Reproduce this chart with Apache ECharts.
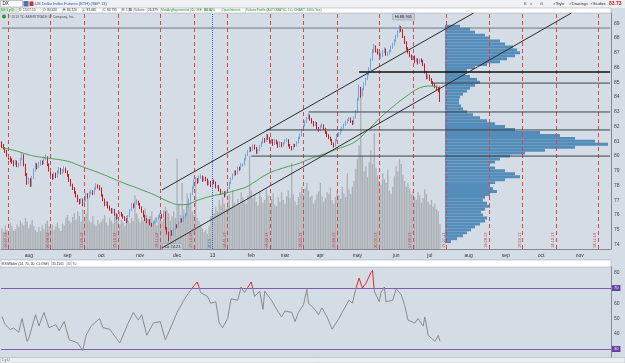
<!DOCTYPE html>
<html><head><meta charset="utf-8">
<script src="https://cdn.jsdelivr.net/npm/echarts@6/dist/echarts.min.js"></script>
<style>html,body{margin:0;padding:0;background:#d4dde6}#c{width:625px;height:363px}</style>
</head><body><div id="c"></div>
<script>
// ---------- DATA ----------
const startDate = '2012-07-10';
const dayCount = 362;
// daily candles [open, close, low, high]
const candles = [
[80.85,80.70,80.55,81.00],[80.70,80.52,80.45,80.82],[80.52,80.35,80.22,80.60],[80.35,80.05,79.95,80.42],[80.05,79.88,79.75,80.15],
[79.88,79.70,79.58,79.98],[79.70,79.60,79.48,79.85],[79.60,79.45,79.30,79.72],[79.45,79.62,79.38,79.75],[79.62,79.35,79.25,79.70],
[79.35,79.40,79.22,79.55],[79.40,79.78,79.35,79.90],[79.78,80.05,79.70,80.20],[80.05,79.40,79.30,80.12],[79.40,78.75,78.65,79.48],
[78.75,78.20,78.05,78.85],[78.20,78.42,78.10,78.55],[78.42,78.00,77.90,78.50],[78.00,78.55,77.95,78.65],[78.55,79.05,78.45,79.15],
[79.05,79.40,78.95,79.55],[79.40,79.25,79.10,79.52],[79.25,79.48,79.18,79.60],[79.48,79.60,79.35,79.75],[79.60,79.52,79.40,79.70],
[79.52,79.85,79.45,79.98],[79.85,79.90,79.70,80.10],[79.90,79.40,79.32,79.98],[79.40,79.05,78.95,79.50],[79.05,78.70,78.60,79.12],
[78.70,78.50,78.40,78.80],[78.50,78.78,78.42,78.90],[78.78,78.62,78.50,78.88],[78.62,78.90,78.55,79.02],[78.90,79.10,78.82,79.25],
[79.10,78.85,78.75,79.20],[78.85,79.00,78.78,79.12],[79.00,79.15,78.90,79.30],[79.15,78.95,78.85,79.22],[78.95,78.70,78.60,79.02],
[78.70,78.35,78.25,78.78],[78.35,78.05,77.95,78.45],[78.05,77.80,77.70,78.12],[77.80,77.55,77.45,77.90],[77.55,77.30,77.20,77.62],
[77.30,77.00,76.88,77.38],[77.00,76.85,76.72,77.10],[76.85,77.05,76.78,77.15],[77.05,76.70,76.60,77.12],[76.70,77.00,76.65,77.10],
[77.00,77.40,76.92,77.50],[77.40,77.25,77.12,77.48],[77.25,77.50,77.18,77.60],[77.50,77.60,77.40,77.72],[77.60,77.45,77.35,77.68],
[77.45,77.78,77.40,77.88],[77.78,78.00,77.70,78.15],[78.00,77.92,77.80,78.08],[77.92,77.80,77.68,78.02],[77.80,77.35,77.25,77.88],
[77.35,77.05,76.95,77.42],[77.05,76.70,76.60,77.12],[76.70,76.85,76.62,76.95],[76.85,76.55,76.45,76.92],[76.55,76.40,76.30,76.65],
[76.40,76.20,76.10,76.48],[76.20,76.35,76.12,76.45],[76.35,76.05,75.95,76.42],[76.05,75.80,75.70,76.12],[75.80,75.95,75.72,76.05],
[75.95,76.15,75.88,76.25],[76.15,76.00,75.90,76.22],[76.00,75.85,75.75,76.08],[75.85,75.70,75.60,75.92],[75.70,75.55,75.45,75.78],
[75.55,75.90,75.50,76.00],[75.90,76.30,75.85,76.40],[76.30,76.70,76.25,76.82],[76.70,76.55,76.45,76.78],[76.55,76.80,76.50,76.92],
[76.80,76.90,76.70,77.05],[76.90,76.75,76.65,76.98],[76.75,76.50,76.40,76.82],[76.50,76.25,76.15,76.58],[76.25,75.95,75.85,76.32],
[75.95,75.70,75.60,76.02],[75.70,75.55,75.45,75.78],[75.55,75.65,75.48,75.75],[75.65,75.40,75.30,75.72],[75.40,75.30,75.20,75.48],
[75.30,75.48,75.25,75.58],[75.48,75.55,75.40,75.65],[75.55,75.75,75.50,75.85],[75.75,75.90,75.68,76.00],[75.90,76.00,75.82,76.12],
[76.00,75.85,75.75,76.08],[75.85,76.20,75.80,76.30],[76.20,75.10,75.00,76.25],[75.10,74.80,74.68,75.18],[74.80,74.50,74.21,74.88],
[74.50,74.90,74.42,75.00],[74.90,74.70,74.58,74.98],[74.70,75.05,74.65,75.15],[75.05,75.30,74.98,75.42],[75.30,75.20,75.10,75.38],
[75.20,75.50,75.15,75.60],[75.50,75.70,75.45,75.80],[75.70,75.60,75.50,75.78],[75.60,75.85,75.55,75.95],[75.85,76.00,75.78,76.12],
[76.00,76.55,75.95,76.65],[76.55,77.00,76.50,77.12],[77.00,77.40,76.92,77.52],[77.40,77.85,77.35,77.95],[77.85,78.30,77.80,78.42],
[78.30,78.40,78.18,78.55],[78.40,78.25,78.12,78.50],[78.25,78.55,78.20,78.68],[78.55,78.60,78.45,78.75],[78.60,78.35,78.25,78.68],
[78.35,78.50,78.28,78.62],[78.50,78.40,78.30,78.60],[78.40,78.10,78.00,78.48],[78.10,78.25,78.02,78.35],[78.25,78.00,77.90,78.32],
[78.00,78.30,77.95,78.40],[78.30,78.20,78.10,78.40],[78.20,77.90,77.80,78.28],[77.90,77.95,77.82,78.05],[77.95,77.70,77.60,78.02],
[77.70,77.45,77.35,77.78],[77.45,77.55,77.38,77.65],[77.55,77.30,77.20,77.62],[77.30,77.55,77.25,77.65],[77.55,77.80,77.50,77.90],
[77.80,78.15,77.75,78.25],[78.15,78.45,78.10,78.55],[78.45,78.70,78.40,78.82],[78.70,78.95,78.65,79.05],[78.95,78.80,78.70,79.02],
[78.80,79.20,78.75,79.30],[79.20,79.10,79.00,79.28],[79.10,79.40,79.05,79.50],[79.40,79.42,79.28,79.52],[79.42,79.75,79.38,79.85],
[79.75,80.05,79.70,80.15],[80.05,80.30,80.00,80.42],[80.30,80.55,80.25,80.65],[80.55,80.40,80.30,80.62],[80.40,80.70,80.35,80.80],
[80.70,80.55,80.45,80.78],[80.55,80.25,80.15,80.62],[80.25,80.40,80.18,80.50],[80.40,80.65,80.35,80.75],[80.65,80.90,80.60,81.00],
[80.90,81.15,80.85,81.25],[81.15,81.00,80.90,81.22],[81.00,81.40,80.95,81.52],[81.40,81.20,81.10,81.48],[81.20,80.95,80.85,81.28],
[80.95,81.10,80.88,81.20],[81.10,80.80,80.70,81.15],[80.80,81.05,80.75,81.15],[81.05,80.90,80.80,81.12],[80.90,80.65,80.55,80.98],
[80.65,80.90,80.60,81.00],[80.90,80.70,80.60,80.95],[80.70,80.85,80.65,80.95],[80.85,81.05,80.80,81.15],[81.05,81.10,80.95,81.22],
[81.10,80.75,80.65,81.15],[80.75,80.60,80.50,80.82],[80.60,80.50,80.38,80.68],[80.50,80.75,80.45,80.85],[80.75,80.70,80.60,80.82],
[80.70,80.90,80.65,81.00],[80.90,81.20,80.85,81.30],[81.20,81.40,81.15,81.52],[81.40,81.75,81.35,81.85],[81.75,82.05,81.70,82.15],
[82.05,82.30,82.00,82.42],[82.30,82.55,82.25,82.65],[82.55,82.75,82.50,82.90],[82.75,82.50,82.40,82.82],[82.50,82.30,82.20,82.58],
[82.30,82.10,82.00,82.38],[82.10,82.25,82.05,82.35],[82.25,81.90,81.80,82.30],[81.90,81.75,81.65,81.98],[81.75,82.00,81.70,82.10],
[82.00,82.10,81.92,82.22],[82.10,81.85,81.75,82.15],[81.85,81.60,81.50,81.92],[81.60,81.40,81.30,81.68],[81.40,81.25,81.15,81.48],
[81.25,81.10,81.00,81.32],[81.10,80.85,80.75,81.15],[80.85,80.70,80.58,80.92],[80.70,81.05,80.65,81.15],[81.05,81.40,81.00,81.50],
[81.40,81.50,81.32,81.62],[81.50,81.75,81.45,81.85],[81.75,81.90,81.68,82.00],[81.90,82.10,81.85,82.20],[82.10,82.30,82.05,82.40],
[82.30,82.40,82.22,82.52],[82.40,82.55,82.35,82.65],[82.55,82.35,82.25,82.62],[82.35,82.20,82.10,82.42],[82.20,82.60,82.15,82.70],
[82.60,83.00,82.55,83.12],[83.00,83.80,82.95,83.95],[83.80,84.60,83.75,84.85],[84.60,84.10,83.95,84.70],[84.10,84.50,84.05,84.62],
[84.50,84.85,84.45,84.98],[84.85,85.20,84.80,85.32],[85.20,85.50,85.15,85.62],[85.50,85.90,85.45,86.02],[85.90,86.50,85.85,86.62],
[86.50,87.10,86.45,87.25],[87.10,87.40,87.00,87.62],[87.40,87.15,87.02,87.50],[87.15,87.00,86.88,87.28],[87.00,86.75,86.62,87.08],
[86.75,86.80,86.60,86.95],[86.80,87.05,86.72,87.18],[87.05,87.25,86.98,87.38],[87.25,86.90,86.80,87.30],[86.90,86.95,86.78,87.08],
[86.95,87.10,86.88,87.22],[87.10,87.35,87.05,87.48],[87.35,87.55,87.28,87.68],[87.55,87.80,87.50,87.92],[87.80,88.10,87.75,88.22],
[88.10,88.40,88.05,88.55],[88.40,88.75,88.35,88.905],[88.75,88.55,88.42,88.82],[88.55,88.10,88.00,88.60],[88.10,87.70,87.60,88.15],
[87.70,87.30,87.20,87.78],[87.30,87.05,86.95,87.38],[87.05,86.80,86.70,87.12],[86.80,86.60,86.50,86.88],[86.60,86.75,86.52,86.85],
[86.75,86.40,86.30,86.82],[86.40,86.55,86.35,86.65],[86.55,86.30,86.20,86.62],[86.30,86.50,86.25,86.60],[86.50,86.45,86.35,86.62],
[86.45,86.20,86.10,86.52],[86.20,85.70,85.60,86.28],[85.70,85.30,85.20,85.78],[85.30,85.45,85.22,85.55],[85.45,85.20,85.10,85.52],
[85.20,85.00,84.90,85.28],[85.00,84.85,84.75,85.08],[84.85,84.70,84.60,84.92],[84.70,84.60,84.48,84.78],[84.60,84.42,84.32,84.68],
[84.420,83.735,83.665,84.720]
];
// daily volume, thousands of contracts
const volumes = [
22,18,25,20,16,28,24,19,21,26, 23,30,27,25,33,29,22,26,31,24, 20,18,23,19,25,21,27,30,24,22,
26,20,24,28,22,19,27,25,33,36, 30,28,34,38,31,40,35,29,42,33, 37,55,30,28,35,26,24,31,27,29,
32,36,28,25,33,30,27,38,34,29, 26,31,28,24,35,30,27,33,29,57, 38,32,28,34,30,43,36,31,35,40,
28,33,25,30,36,29,32,45,41,38, 30,35,40,33,96,48,36,70,42,38, 59,45,50,40,36,76,33,30,26,22,
18,20,16,24,35,42,38,45,40,52, 46,55,48,42,50,58,44,62,49,45, 53,47,60,55,51,48,57,99,62,54,
58,50,46,61,55,49,52,63,57,48, 53,59,47,45,55,50,60,52,48,56, 62,54,91,58,50,47,55,60,66,58,
64,70,62,55,57,48,52,58,61,70, 56,50,54,60,58,65,52,48,55,62, 57,53,66,59,55,80,63,58,66,72,
85,95,110,170,98,82,88,76,92,105, 90,123,86,78,72,68,80,74,70,84, 62,58,66,77,88,82,95,90,78,72,
66,70,64,58,61,55,52,60,57,49, 54,63,58,50,47,52,45,48,42,40, 26.379
];
// exponential moving average (weekly samples)
const maDays   = [0,5,10,15,20,25,30,35,40,45,50,55,60,65,70,75,80,85,90,95,100,105,110,115,120,125,130,135,140,145,150,155,160,165,170,175,180,185,190,195,200,205,210,215,220,225,230,235,240,245,250,255,260];
const maValues = [80.58,80.45,80.30,80.12,79.98,79.90,79.82,79.74,79.62,79.40,79.18,78.98,78.76,78.52,78.28,78.05,77.85,77.62,77.40,77.12,76.86,76.70,76.72,76.95,77.15,77.30,77.42,77.55,77.72,77.90,78.25,78.62,78.92,79.12,79.30,79.45,79.68,79.90,80.10,80.30,80.52,80.72,81.00,81.50,82.08,82.65,83.15,83.62,84.05,84.45,84.70,84.75,84.62];
// RSI (Wilder 14) samples
const rsiDays   = [0,2,5,7,10,12,15,16,20,22,25,28,32,34,37,40,45,48,50,53,58,60,64,68,70,75,78,81,83,86,90,94,97,101,104,108,111,114,116,118,122,124,127,129,131,134,136,140,142,144,148,150,153,155,156,160,162,166,168,172,174,176,179,181,182,185,188,190,193,196,200,202,206,208,210,212,214,216,219,220,221,224,225,227,228,232,234,237,239,241,245,247,250,251,253,257,259,260];
const rsiValues = [51.4,46,42.7,43.8,41,50,35,37,52.5,45,54,44,46,42,48,36,34,29,39,45,50,44,43,37,34,47,54,49,52.5,39,47,48,36,46,54,62,67,71.5,74,67,64.5,60,61,47,44,50,63,62,70.5,67,74,64.5,68,56,68,62,58,51,55,54,48,54,59,69,60,57,52.5,57,51,43,50,54,62,60,69,76.5,70,73,80,81.6,68,61,67,70.5,61,62,69.5,65.6,59,49,47,50,45,51,39,35,39,35.1101];
// volume profile: lower edge of each 0.2 price row, and volume
const profileStep = 0.2;
const profileLevels  = [88.7,88.5,88.3,88.1,87.9,87.7,87.5,87.3,87.1,86.9,86.7,86.5,86.3,86.1,85.9,85.7,85.5,85.3,85.1,84.9,84.7,84.5,84.3,84.1,83.9,83.7,83.5,83.3,83.1,82.9,82.7,82.5,82.3,82.1,81.9,81.7,81.5,81.3,81.1,80.9,80.7,80.5,80.3,80.1,79.9,79.7,79.5,79.3,79.1,78.9,78.7,78.5,78.3,78.1,77.9,77.7,77.5,77.3,77.1,76.9,76.7,76.5,76.3,76.1,75.9,75.7,75.5,75.3,75.1,74.9,74.7,74.5,74.3,74.1];
const profileVolumes = [15,25,30,40,45,55,60,68,72,75,70,62,55,42,30,22,20,25,32,35,30,25,22,18,15,14,14,16,18,22,28,35,42,50,60,70,95,115,130,150,163,130,100,80,65,55,50,45,50,60,70,75,60,50,45,48,52,45,40,38,42,45,40,36,38,42,40,35,30,26,22,18,12,6];
// drawings
const expiryDates = ['2012-07-16','2012-08-20','2012-09-17','2012-10-15','2012-11-19','2012-12-17','2013-01-14','2013-02-18','2013-03-18','2013-04-15','2013-05-20','2013-06-17','2013-07-15','2013-08-19','2013-09-16','2013-10-14','2013-11-18'];
const yearStart = '2013-01-01';
const hLinePrices    = [88.68, 85.70, 84.95, 82.99, 81.77, 80.00];
const hLineStartDays = [0, 212, 255, 182, 157, 148];
const chanStartDay   = [95, 95];
const chanStartPrice = [77.70, 73.77];
const chanEndDay     = [280, 338];
const chanEndPrice   = [89.70, 89.70];
const priceTicks = [74,75,76,77,78,79,80,81,82,83,84,85,86,87,88,89];
const rsiTicks = [40,50,60,80];
const rsiLevels = [70, 30];
const monthNames = ['','jan','feb','mar','apr','may','jun','jul','aug','sep','oct','nov','dec'];

// ---------- BUILD ----------
const categories = [];
(function(){ const d = new Date(startDate + 'T00:00:00Z');
  while (categories.length < dayCount) { const w = d.getUTCDay(); if (w !== 0 && w !== 6) categories.push(d.toISOString().slice(0,10)); d.setUTCDate(d.getUTCDate()+1); } })();
const monthStart = new Set();
categories.forEach((c,i)=>{ if (i>0 && c.slice(5,7)!==categories[i-1].slice(5,7)) monthStart.add(i); });
const dmy = s => s.slice(8,10)+'.'+s.slice(5,7)+'.'+s.slice(2,4);
const lastClose = candles[candles.length-1][1];
const lastMA = maValues[maValues.length-1];
const lastRsi = rsiValues[rsiValues.length-1];
const hiIdx = 236, loIdx = 99;
const FONT = 'Liberation Sans, Arial, sans-serif';
const rsiMin = 24.75, rsiMax = 83.8;
const rsiGrid = {left:1, top:267, width:610, height:90};
const obFrac = (rsiMax - rsiLevels[0]) / (rsiMax - rsiMin);

const series = [];
// volume + vertical markers
series.push({type:'bar', xAxisIndex:0, yAxisIndex:1, data:volumes, barCategoryGap:'25%', silent:true, z:2,
  itemStyle:{color:'rgba(130,130,130,0.5)'},
  markLine:{silent:true, symbol:['none','none'], animation:false,
    lineStyle:{color:'#d5494c', type:[4,3], width:1},
    label:{show:true, position:'insideStartTop', formatter:'{b}', color:'#c8383b', fontSize:4, fontFamily:FONT, distance:1},
    data: expiryDates.map(d=>({xAxis:d, name:dmy(d)})).concat([{xAxis:yearStart, name:'2013', lineStyle:{color:'#3f68c0', type:'dotted', width:1}, label:{color:'#3f68c0'}}])
  }});
// volume profile
series.push({type:'custom', xAxisIndex:1, yAxisIndex:2, z:3, silent:true,
  data: profileLevels.map((p,i)=>[p, profileVolumes[i]]), encode:{x:1, y:0},
  renderItem:(params, api)=>{ const p = api.value(0), v = api.value(1);
    const a = api.coord([0, p+profileStep]), b = api.coord([v, p]);
    return {type:'rect', shape:{x:a[0], y:a[1], width:b[0]-a[0], height:b[1]-a[1]}, style:{fill:'#548cba'}}; }});
// candles
series.push({type:'candlestick', xAxisIndex:0, yAxisIndex:0, data:candles, barWidth:'72%', z:4, silent:true,
  itemStyle:{color:'#6ea6dd', color0:'#d01a1a', borderColor:'#6ea6dd', borderColor0:'#d01a1a', borderWidth:1},
  markPoint:{symbol:'circle', symbolSize:0, silent:true, animation:false,
    label:{show:true, fontSize:4, fontFamily:FONT, color:'#222', backgroundColor:'#c3ccd6', padding:[1,2], borderColor:'#8a95a0', borderWidth:0.5},
    data:[{coord:[hiIdx, candles[hiIdx][3]], value:'Hi '+candles[hiIdx][3].toFixed(3), label:{formatter:'{c}', offset:[4,-8]}},
          {coord:[loIdx, candles[loIdx][2]], value:'Lo '+candles[loIdx][2].toFixed(2), label:{formatter:'{c}', offset:[4,5]}}]},
  markLine:{silent:true, symbol:['none','none'], animation:false, lineStyle:{opacity:0},
    label:{show:true, position:'end', distance:1, formatter:lastClose.toFixed(3), color:'#fff', backgroundColor:'#c41a1a', fontSize:4, fontFamily:FONT, padding:[1,1]},
    data:[{yAxis:lastClose}]}});
// moving average
series.push({type:'line', xAxisIndex:0, yAxisIndex:0, data:maDays.map((d,i)=>[d, maValues[i]]), smooth:0.4, symbol:'none', z:5, silent:true,
  lineStyle:{color:'#4e9e4e', width:1},
  markLine:{silent:true, symbol:['none','none'], animation:false, lineStyle:{opacity:0},
    label:{show:true, position:'end', distance:1, formatter:lastMA.toFixed(3), color:'#fff', backgroundColor:'#1f8a1f', fontSize:4, fontFamily:FONT, padding:[1,1]},
    data:[{yAxis:lastMA}]}});
// horizontal drawings
hLinePrices.forEach((p,i)=>{
  series.push({type:'line', xAxisIndex:0, yAxisIndex:0, data:[[hLineStartDays[i], p],[dayCount-1, p]], symbol:'none', z:6, silent:true,
    lineStyle:{color: i===1 ? '#111' : (i===0 ? '#6b7680' : '#3c4248'), width: i===1 ? 1.6 : 1}});
});
// channel lines
chanStartDay.forEach((d,i)=>{
  series.push({type:'line', xAxisIndex:0, yAxisIndex:0, data:[[d, chanStartPrice[i]],[chanEndDay[i], chanEndPrice[i]]], symbol:'none', z:6, silent:true,
    lineStyle:{color:'#2a2a2a', width:1}});
});
// RSI (red above the overbought level)
series.push({type:'line', xAxisIndex:2, yAxisIndex:3, data:rsiDays.map((d,i)=>[d, rsiValues[i]]), symbol:'none', z:5, silent:true,
  lineStyle:{width:1, color:{type:'linear', global:true, x:0, y:rsiGrid.top, x2:0, y2:rsiGrid.top+rsiGrid.height,
    colorStops:[{offset:0, color:'#e0262c'},{offset:obFrac, color:'#e0262c'},{offset:obFrac+0.0005, color:'#8a8a8a'},{offset:1, color:'#8a8a8a'}]}},
  markLine:{silent:true, symbol:['none','none'], animation:false,
    label:{show:true, position:'end', distance:1, formatter:'{b}', color:'#fff', backgroundColor:'#6a3fa3', fontSize:4, fontFamily:FONT, padding:[1,2]},
    lineStyle:{color:'#7d5db3', width:1, type:'solid'},
    data: rsiLevels.map(v=>({yAxis:v, name:String(v)})).concat([{yAxis:lastRsi, name:lastRsi.toFixed(4), lineStyle:{opacity:0}, label:{backgroundColor:'#3d3d3d', padding:[1,1]}}])
  }});

// ---------- HEADER GRAPHICS ----------
const g = [];
g.push({type:'rect', shape:{x:0,y:0,width:625,height:8}, style:{fill:'#eef0f2'}, z:0});
g.push({type:'rect', shape:{x:0.5,y:0.5,width:22,height:6.5}, style:{fill:'#fff', stroke:'#8c959e', lineWidth:0.5}});
g.push({type:'text', x:2.5, y:4, style:{text:'DX', fontSize:4.5, fill:'#000', fontFamily:FONT, verticalAlign:'middle'}});
g.push({type:'rect', shape:{x:23.5,y:1,width:5,height:5.5}, style:{fill:'#4f72b8'}});
g.push({type:'rect', shape:{x:29.5,y:1.5,width:4,height:4.5}, style:{fill:'#c33'}});
g.push({type:'text', x:35, y:4, style:{text:'US Dollar Index Futures (ETH) (SEP 13)', fontSize:4, fill:'#2f52b0', fontFamily:FONT, verticalAlign:'middle'}});
[['K',524],['⌂',530],['⊙',540],['✓Style',553],['✓Drawings',569],['✓Studies',590]].forEach(t=>{
  g.push({type:'text', x:t[1], y:4, style:{text:t[0], fontSize:3.8, fill:'#333', fontFamily:FONT, verticalAlign:'middle'}});
});
g.push({type:'text', x:609, y:4, style:{text:lastClose.toFixed(2), fontSize:5, fontWeight:'bold', fill:'#c41a1a', fontFamily:FONT, verticalAlign:'middle'}});
// study row
g.push({type:'rect', shape:{x:0,y:8,width:611,height:5}, style:{fill:'#ffffff', stroke:'#9aa3ad', lineWidth:0.5}});
g.push({type:'rect', shape:{x:0.5,y:8.5,width:17,height:4}, style:{fill:'#cfe6cf'}});
const rowItems = [['DX 1 y D',1,'#1d7a1d'],['D: 13.07.10',19,'#333'],['O: 84.420',43,'#333'],['H: 84.720',63,'#333'],['L: 83.665',83,'#333'],
  ['C: '+lastClose.toFixed(3),103,'#333'],['R: 1.55',122,'#333'],['V:',129,'#333'],['Volume',134,'#555'],['26,379',148,'#333'],
  ['MovAvgExponential (CLOSE, 80, 0)',161,'#2b8a2b'],[lastMA.toFixed(3),205,'#2b8a2b'],['OpenInterest',222,'#2b8a2b'],
  ['VolumeProfile (AUTOMATIC, 1.0, CHART, 1000, Yes)',246,'#2b8a2b']];
rowItems.forEach(t=>{
  g.push({type:'text', x:t[1], y:10.6, style:{text:t[0], fontSize:3.2, fill:t[2], fontFamily:FONT, verticalAlign:'middle'}});
  g.push({type:'rect', shape:{x:t[1]-1,y:8.5,width:0.4,height:4}, style:{fill:'#a8b0b8'}});
});
g.push({type:'circle', shape:{cx:4, cy:16.5, r:2}, style:{fill:'#2a9a2a'}});
g.push({type:'text', x:8, y:16.6, style:{text:'© 2013 TD AMERITRADE IP Company, Inc.', fontSize:3.4, fill:'#555', fontFamily:FONT, verticalAlign:'middle'}});
// RSI header row
g.push({type:'rect', shape:{x:0,y:260,width:611,height:7}, style:{fill:'#ffffff', stroke:'#9aa3ad', lineWidth:0.5}});
[['RSIWilder (14, 70, 30, CLOSE)',2,'#333'],[lastRsi.toFixed(4),52,'#333'],['30',67,'#6a3fa3'],['70',72.5,'#6a3fa3']].forEach(t=>{
  g.push({type:'text', x:t[1], y:263.6, style:{text:t[0], fontSize:3.4, fill:t[2], fontFamily:FONT, verticalAlign:'middle'}});
  g.push({type:'rect', shape:{x:t[1]-1,y:260.5,width:0.4,height:6}, style:{fill:'#a8b0b8'}});
});
// bottom scroll strip
g.push({type:'rect', shape:{x:0,y:357.5,width:625,height:5.5}, style:{fill:'#eceef0', stroke:'#a0a8b0', lineWidth:0.5}});
g.push({type:'text', x:2, y:360.3, style:{text:'1 y D', fontSize:3.2, fill:'#444', fontFamily:FONT, verticalAlign:'middle'}});

// ---------- OPTION ----------
const axisGray = '#7f8a95';
const option = {
  backgroundColor:'#d4dde6',
  animation:false,
  textStyle:{fontFamily:FONT},
  grid:[
    {left:1, top:13, width:610, height:236},
    {left:445, top:13, width:166, height:236},
    rsiGrid
  ],
  xAxis:[
    {type:'category', gridIndex:0, data:categories, boundaryGap:true,
      axisLine:{show:true, lineStyle:{color:axisGray, width:1}}, axisTick:{show:false}, splitLine:{show:false},
      axisLabel:{interval:(i)=>monthStart.has(i), formatter:(v)=>{const m=+v.slice(5,7); return m===1 ? v.slice(2,4) : monthNames[m];},
        fontSize:5, color:'#333', margin:4}},
    {type:'value', gridIndex:1, min:0, max:166, show:false},
    {type:'category', gridIndex:2, data:categories, boundaryGap:true, show:false}
  ],
  yAxis:[
    {type:'value', gridIndex:0, min:73.7, max:89.7, position:'right',
      axisLine:{show:true, lineStyle:{color:axisGray}}, axisTick:{show:false}, splitLine:{show:false},
      axisLabel:{customValues:priceTicks, fontSize:5, color:'#444', margin:3}},
    {type:'value', gridIndex:0, min:0, max:250, show:false},
    {type:'value', gridIndex:1, min:73.7, max:89.7, show:false},
    {type:'value', gridIndex:2, min:rsiMin, max:rsiMax, position:'right',
      axisLine:{show:true, lineStyle:{color:axisGray}}, axisTick:{show:false}, splitLine:{show:false},
      axisLabel:{customValues:rsiTicks, fontSize:5, color:'#444', margin:3}}
  ],
  graphic:g,
  series:series
};
const chart = echarts.init(document.getElementById('c'), null, {renderer:'canvas', width:625, height:363});
chart.setOption(option);
</script></body></html>
